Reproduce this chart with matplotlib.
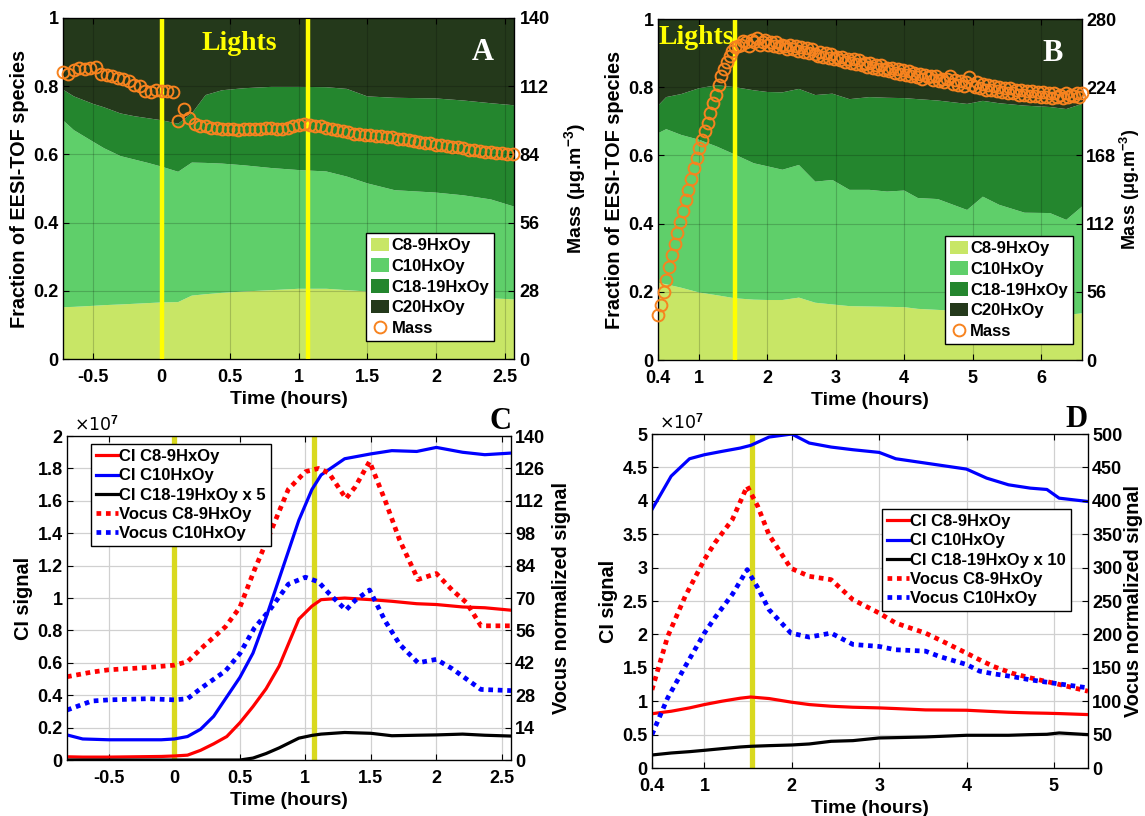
import numpy as np
import matplotlib
matplotlib.use("Agg")
import matplotlib.pyplot as plt

plt.rcParams['font.family'] = ['Liberation Sans', 'DejaVu Sans']
plt.rcParams['font.weight'] = 'bold'
plt.rcParams['mathtext.fontset'] = 'custom'
plt.rcParams['mathtext.rm'] = 'Liberation Sans:bold'
plt.rcParams['mathtext.bf'] = 'Liberation Sans:bold'
plt.rcParams['mathtext.default'] = 'rm'

# ---------------- Panel A data ----------------
time_a = [-0.72, -0.64, -0.5, -0.42, -0.3, -0.2, -0.1, 0.0, 0.12, 0.22, 0.32, 0.44,
          0.6, 0.8, 1.0, 1.2, 1.35, 1.5, 1.7, 2.0, 2.2, 2.4, 2.57]
c89_a = [0.152, 0.153, 0.156, 0.158, 0.160, 0.162, 0.164, 0.166, 0.167, 0.186, 0.190, 0.194,
         0.198, 0.202, 0.206, 0.206, 0.202, 0.198, 0.194, 0.188, 0.183, 0.178, 0.175]
c10_a = [0.548, 0.518, 0.481, 0.460, 0.435, 0.423, 0.411, 0.398, 0.382, 0.390, 0.385, 0.379,
         0.370, 0.358, 0.348, 0.344, 0.333, 0.317, 0.301, 0.300, 0.297, 0.290, 0.272]
c1819_a = [0.090, 0.099, 0.111, 0.120, 0.125, 0.127, 0.131, 0.136, 0.141, 0.144, 0.199, 0.215,
           0.226, 0.238, 0.244, 0.247, 0.257, 0.255, 0.271, 0.276, 0.278, 0.282, 0.297]
c20_a = [0.210, 0.230, 0.252, 0.262, 0.280, 0.288, 0.294, 0.300, 0.310, 0.280, 0.226, 0.212,
         0.206, 0.202, 0.202, 0.203, 0.208, 0.230, 0.234, 0.236, 0.242, 0.250, 0.256]
mass_a = [118.0, 117.0, 118.5, 119.5, 119.0, 119.5, 120.0, 117.0, 116.5, 116.0, 115.5, 115.0,
          114.0, 112.5, 112.0, 110.0, 109.5, 110.5, 110.0, 110.0, 109.5,
          97.5, 102.5, 99.0, 96.5, 95.5, 95.5, 95.0, 95.0, 94.5, 94.5, 94.5, 94.0,
          94.5, 94.5, 94.5, 94.5, 95.0, 95.0, 94.5, 94.5, 95.0, 95.5, 96.0,
          96.5, 96.0, 95.5, 95.5, 95.0, 94.5, 94.0, 93.5, 93.0, 92.5, 92.5, 92.0,
          92.0, 91.5, 91.5, 91.0, 91.0, 90.5, 90.5, 90.0, 89.5, 89.0, 88.5, 88.5, 88.0,
          88.0, 87.5, 87.0, 87.0, 86.5, 86.0, 86.0, 85.5, 85.0, 85.0, 84.5, 84.5, 84.0, 84.0]
mass_a_start, mass_a_end = -0.72, 2.56
lights_a = [0.0, 1.07]

# ---------------- Panel B data ----------------
time_b = [0.4, 0.52, 0.74, 1.0, 1.26, 1.53, 1.8, 2.0, 2.22, 2.46, 2.7, 2.95, 3.2, 3.49,
          3.75, 4.0, 4.2, 4.49, 4.92, 5.15, 5.39, 5.76, 6.13, 6.37, 6.6]
c89_b = [0.227, 0.222, 0.212, 0.198, 0.190, 0.181, 0.177, 0.176, 0.176, 0.183, 0.168, 0.163,
         0.158, 0.157, 0.156, 0.155, 0.150, 0.147, 0.143, 0.142, 0.140, 0.137, 0.133, 0.132, 0.137]
c10_b = [0.438, 0.455, 0.448, 0.448, 0.436, 0.421, 0.400, 0.392, 0.382, 0.389, 0.355, 0.365,
         0.341, 0.342, 0.338, 0.342, 0.325, 0.325, 0.297, 0.337, 0.315, 0.295, 0.298, 0.279, 0.313]
c1819_b = [0.081, 0.094, 0.120, 0.151, 0.180, 0.198, 0.214, 0.218, 0.227, 0.223, 0.254, 0.253,
           0.266, 0.272, 0.275, 0.271, 0.290, 0.289, 0.311, 0.281, 0.298, 0.314, 0.311, 0.325, 0.301]
c20_b = [0.254, 0.229, 0.220, 0.203, 0.194, 0.200, 0.209, 0.214, 0.215, 0.205, 0.223, 0.219,
         0.235, 0.229, 0.231, 0.232, 0.235, 0.239, 0.249, 0.240, 0.247, 0.254, 0.258, 0.264, 0.249]
mass_b = [37, 45, 56, 66, 76, 86, 95, 104, 113, 122, 131, 140, 149, 158, 166, 174, 181, 188,
          195, 203, 211, 218, 226, 233, 239, 245, 250, 254, 257,
          258, 259, 262, 261, 258, 263, 261, 264, 259, 261, 263, 259, 261, 258, 261, 257, 259,
          258, 255, 259, 255, 258, 254, 257, 253, 256, 252, 255, 251, 250, 253, 249, 252, 248,
          251, 247, 249, 246, 249, 245, 247, 244, 247, 243, 246, 242, 244, 241, 244, 240, 242,
          239, 242, 238, 240, 237, 240, 236, 239, 235, 238, 234, 237, 233, 236, 232, 235, 231,
          234, 232, 233, 230, 233, 229, 231, 228, 231, 233, 227, 230, 226, 229, 225, 228, 232,
          226, 224, 228, 223, 227, 222, 226, 222, 225, 221, 224, 220, 223, 219, 223, 219, 222,
          218, 222, 218, 221, 217, 221, 217, 220, 216, 220, 216, 219, 215, 219, 216, 218, 215,
          219, 216, 218, 217, 219, 216, 219]
mass_b_start, mass_b_end = 0.4, 6.6
lights_b = [1.53]

# ---------------- Panel C data ----------------
time_c_ci = [-0.82, -0.7, -0.5, -0.3, -0.1, 0.0, 0.1, 0.2, 0.3, 0.4, 0.5, 0.6, 0.7, 0.8,
             0.95, 1.05, 1.12, 1.3, 1.5, 1.66, 1.85, 2.0, 2.2, 2.37, 2.57]
ci_c89_c = [0.02, 0.018, 0.018, 0.02, 0.022, 0.025, 0.03, 0.06, 0.10, 0.145, 0.23, 0.33, 0.44,
            0.58, 0.87, 0.95, 0.99, 1.0, 0.99, 0.98, 0.965, 0.96, 0.945, 0.94, 0.925]
ci_c10_c = [0.155, 0.13, 0.125, 0.125, 0.125, 0.13, 0.145, 0.19, 0.27, 0.39, 0.51, 0.66, 0.88,
            1.12, 1.48, 1.67, 1.76, 1.86, 1.89, 1.91, 1.905, 1.93, 1.90, 1.885, 1.895]
ci_c1819_c = [0, 0, 0, 0, 0, 0, 0, 0, 0, 0, 0, 0.012, 0.04, 0.075, 0.135, 0.152, 0.16, 0.17,
              0.165, 0.15, 0.153, 0.155, 0.16, 0.153, 0.148]
time_c_v = [-0.82, -0.63, -0.5, -0.2, 0.0, 0.1, 0.22, 0.39, 0.5, 0.61, 0.73, 0.87, 1.0, 1.1,
            1.18, 1.31, 1.38, 1.49, 1.61, 1.72, 1.86, 2.0, 2.12, 2.23, 2.34, 2.57]
vocus_c89_c = [36, 38, 39, 40, 41, 42.5, 49, 57.6, 66, 82, 98, 117, 124.6, 126, 124, 113, 118,
               129, 112, 95, 78, 80.6, 73.5, 68, 58, 58]
vocus_c10_c = [21.6, 25.5, 26, 26.5, 26, 26.5, 31.7, 38.5, 46, 57, 65, 76, 79, 77, 72, 64.8, 69,
               73.5, 60, 50, 42, 43.5, 39.5, 35, 30.5, 30]
lights_c = [0.0, 1.065]

# ---------------- Panel D data ----------------
time_d_ci = [0.4, 0.62, 0.83, 1.0, 1.2, 1.41, 1.53, 1.74, 2.0, 2.2, 2.45, 2.7, 3.0, 3.19, 3.53,
             4.0, 4.23, 4.48, 4.73, 4.92, 5.06, 5.39]
ci_c10_d = [3.87, 4.37, 4.63, 4.69, 4.74, 4.79, 4.83, 4.955, 5.0, 4.865, 4.805, 4.765, 4.725,
            4.63, 4.565, 4.475, 4.34, 4.24, 4.19, 4.17, 4.04, 3.99]
ci_c89_d = [0.813, 0.85, 0.90, 0.95, 1.00, 1.045, 1.063, 1.04, 0.985, 0.95, 0.925, 0.91, 0.90,
            0.89, 0.87, 0.865, 0.85, 0.835, 0.825, 0.82, 0.815, 0.80]
ci_c1819_d = [0.195, 0.225, 0.245, 0.265, 0.29, 0.315, 0.325, 0.335, 0.345, 0.36, 0.40, 0.41,
              0.45, 0.455, 0.465, 0.49, 0.49, 0.49, 0.50, 0.505, 0.525, 0.50]
time_d_v = [0.4, 0.58, 0.78, 1.0, 1.12, 1.32, 1.49, 1.61, 1.74, 1.99, 2.2, 2.45, 2.7, 3.0,
            3.19, 3.53, 3.69, 4.0, 4.15, 4.31, 4.52, 4.73, 5.0, 5.39]
vocus_c89_d = [117, 197, 257, 312, 337, 372, 422, 392, 349, 299, 287, 282, 252, 232, 217, 202,
               192, 172, 162, 152, 142, 135, 127, 115]
vocus_c10_d = [50, 105, 152, 202, 225, 260, 297, 270, 237, 202, 196, 202, 185, 182, 177, 175,
               167, 155, 145, 141, 137, 132, 127, 120]
lights_d = [1.54]

species = ['C8-9HxOy', 'C10HxOy', 'C18-19HxOy', 'C20HxOy']
species_colors = ['#c8e666', '#5fcf6a', '#24862e', '#24391b']
mass_color = '#f7831f'

# ---------------- Figure ----------------
fig = plt.figure(figsize=(11.45, 8.16), dpi=100)
axA = fig.add_axes([0.055, 0.560, 0.394, 0.418])
axB = fig.add_axes([0.5747, 0.5588, 0.3703, 0.4179])
axC = fig.add_axes([0.0585, 0.0686, 0.3878, 0.397])
axD = fig.add_axes([0.5694, 0.0588, 0.3808, 0.4093])

TFS = 13      # left / x tick labels
RFS = 13      # right tick labels
XLFS = 14     # x labels
YLFS = 14.3   # y labels
LEGFS = 12
serif = ['Liberation Serif', 'DejaVu Serif']


def style_axis(ax):
    ax.tick_params(direction='in', length=4, width=0.8, labelsize=TFS, top=True)
    ax.tick_params(axis='x', pad=7)
    ax.tick_params(axis='y', pad=3)
    for s in ax.spines.values():
        s.set_linewidth(0.9)
        s.set_color('black')


def frac_panel(ax, t, fracs, mass, m0, m1, xl, xt, xtl, mlim, lights, letter, lights_x, leg_anchor,
               mass_pad, mass_fs, rtick_pad):
    ax.stackplot(t, *fracs, colors=species_colors, labels=species, zorder=1)
    ax.set_xlim(*xl)
    ax.set_ylim(0, 1)
    ax.set_xticks(xt)
    ax.set_xticklabels(xtl)
    ax.set_yticks([0, 0.2, 0.4, 0.6, 0.8, 1.0])
    ax.set_yticklabels(['0', '0.2', '0.4', '0.6', '0.8', '1'])
    ax.grid(True, color='black', alpha=0.18, lw=0.8)
    ax.set_axisbelow(False)
    for lx in lights:
        ax.axvline(lx, color='#ffff00', lw=3.2, zorder=5)
    style_axis(ax)
    ax.set_xlabel('Time (hours)', fontsize=XLFS, fontweight='bold', labelpad=4)
    ax.set_ylabel('Fraction of EESI-TOF species', fontsize=YLFS, fontweight='bold', labelpad=3)
    ax2 = ax.twinx()
    tm = np.linspace(m0, m1, len(mass))
    ax2.plot(tm, mass, 'o', mfc='none', mec=mass_color, ms=8.5, mew=1.4, label='Mass',
             clip_on=False, zorder=6)
    ax2.set_ylim(0, mlim)
    ax2.set_yticks(np.linspace(0, mlim, 6))
    ax2.set_yticklabels([str(int(v)) for v in np.linspace(0, mlim, 6)])
    ax2.tick_params(direction='in', length=4, width=0.8, labelsize=RFS, pad=rtick_pad)
    ax2.set_ylabel('Mass (μg.m$^{-3}$)', fontsize=mass_fs, fontweight='bold', labelpad=mass_pad)
    ax.text(lights_x[0], lights_x[1], 'Lights', transform=ax.transAxes, color='#ffff00',
            fontsize=20, fontweight='bold', family=serif, ha=lights_x[2], va='center', zorder=7)
    ax.text(0.955, 0.90, letter, transform=ax.transAxes, color='white', fontsize=22,
            fontweight='bold', family=serif, ha='right', va='center', zorder=7)
    h1, l1 = ax.get_legend_handles_labels()
    h2, l2 = ax2.get_legend_handles_labels()
    leg = ax2.legend(h1 + h2, l1 + l2, loc='lower right', bbox_to_anchor=leg_anchor,
                     borderaxespad=0, fancybox=False, framealpha=1, edgecolor='black',
                     handlelength=1.1, handleheight=0.9, handletextpad=0.15,
                     labelspacing=0.3, borderpad=0.3, prop={'weight': 'bold', 'size': LEGFS})
    leg.get_frame().set_linewidth(1.0)
    return ax2


frac_panel(axA, time_a, [c89_a, c10_a, c1819_a, c20_a], mass_a, mass_a_start, mass_a_end,
           (-0.72, 2.57), [-0.5, 0, 0.5, 1, 1.5, 2, 2.5], ['-0.5', '0', '0.5', '1', '1.5', '2', '2.5'],
           140, lights_a, 'A', (0.39, 0.925, 'center'), (0.956, 0.053), 9, 14, 4)
frac_panel(axB, time_b, [c89_b, c10_b, c1819_b, c20_b], mass_b, mass_b_start, mass_b_end,
           (0.4, 6.6), [0.4, 1, 2, 3, 4, 5, 6], ['0.4', '1', '2', '3', '4', '5', '6'],
           280, lights_b, 'B', (0.0, 0.945, 'left'), (0.979, 0.047), 1, 13, 3)


def signal_panel(ax, tci, c89, c10, c1819, tv, v89, v10, xl, xt, xtl, ymax, ystep, yfmt, rmax, rstep,
                 lights, letter, x_label, leg_loc, leg_anchor, rpad):
    ax.set_xlim(*xl)
    ax.set_ylim(0, ymax)
    ax.set_xticks(xt)
    ax.set_xticklabels(xtl)
    yt = np.arange(0, ymax + 1e-9, ystep)
    ax.set_yticks(yt)
    ax.set_yticklabels([yfmt(v) for v in yt])
    ax.grid(True, color='#d0d0d0', lw=0.9)
    ax.set_axisbelow(True)
    for lx in lights:
        ax.axvline(lx, color='#d9d91f', lw=3.8, zorder=1)
    l1, = ax.plot(tci, c89, color='#ff0000', lw=2.3, label='CI C8-9HxOy', zorder=3)
    l2, = ax.plot(tci, c10, color='#0000ff', lw=2.3, label='CI C10HxOy', zorder=3)
    l3, = ax.plot(tci, c1819, color='black', lw=2.3, label=x_label, zorder=3)
    style_axis(ax)
    ax.set_xlabel('Time (hours)', fontsize=XLFS, fontweight='bold', labelpad=4)
    ax.set_ylabel('CI signal', fontsize=YLFS, fontweight='bold', labelpad=3)
    ax.text(0.015, 1.005, '×10$^{7}$', transform=ax.transAxes, fontsize=12.5, ha='left', va='bottom',
            family=['DejaVu Sans'], fontweight='normal')
    ax.text(1.0, 1.045, letter, transform=ax.transAxes, color='black', fontsize=22,
            fontweight='bold', family=serif, ha='right', va='center')
    ax2 = ax.twinx()
    l4, = ax2.plot(tv, v89, color='#ff0000', lw=3.4, ls=(0, (1, 1)), label='Vocus C8-9HxOy')
    l5, = ax2.plot(tv, v10, color='#0000ff', lw=3.4, ls=(0, (1, 1)), label='Vocus C10HxOy')
    ax2.set_ylim(0, rmax)
    rt = np.arange(0, rmax + 1e-9, rstep)
    ax2.set_yticks(rt)
    ax2.set_yticklabels([str(int(v)) for v in rt])
    ax2.tick_params(direction='in', length=4, width=0.8, labelsize=RFS, pad=3)
    ax2.set_ylabel('Vocus normalized signal', fontsize=YLFS, fontweight='bold', labelpad=rpad)
    leg = ax2.legend([l1, l2, l3, l4, l5], [h.get_label() for h in [l1, l2, l3, l4, l5]],
                     loc=leg_loc, bbox_to_anchor=leg_anchor, borderaxespad=0, fancybox=False,
                     framealpha=1, edgecolor='black', handlelength=1.3, handletextpad=0.1,
                     labelspacing=0.25, borderpad=0.3, prop={'weight': 'bold', 'size': LEGFS})
    leg.get_frame().set_linewidth(1.0)
    return ax2


def fmt_c(v):
    s = ('%.1f' % v)
    return s[:-2] if s.endswith('.0') else s


signal_panel(axC, time_c_ci, ci_c89_c, ci_c10_c, ci_c1819_c, time_c_v, vocus_c89_c, vocus_c10_c,
             (-0.82, 2.57), [-0.5, 0, 0.5, 1, 1.5, 2, 2.5], ['-0.5', '0', '0.5', '1', '1.5', '2', '2.5'],
             2.0, 0.2, fmt_c, 140, 14, lights_c, 'C', 'CI C18-19HxOy x 5', 'upper left', (0.054, 0.975), 5)
signal_panel(axD, time_d_ci, ci_c89_d, ci_c10_d, ci_c1819_d, time_d_v, vocus_c89_d, vocus_c10_d,
             (0.4, 5.39), [0.4, 1, 2, 3, 4, 5], ['0.4', '1', '2', '3', '4', '5'],
             5.0, 0.5, fmt_c, 500, 50, lights_d, 'D', 'CI C18-19HxOy x 10', 'upper right', (0.961, 0.775), 1)

fig.savefig('out.png', dpi=100)
